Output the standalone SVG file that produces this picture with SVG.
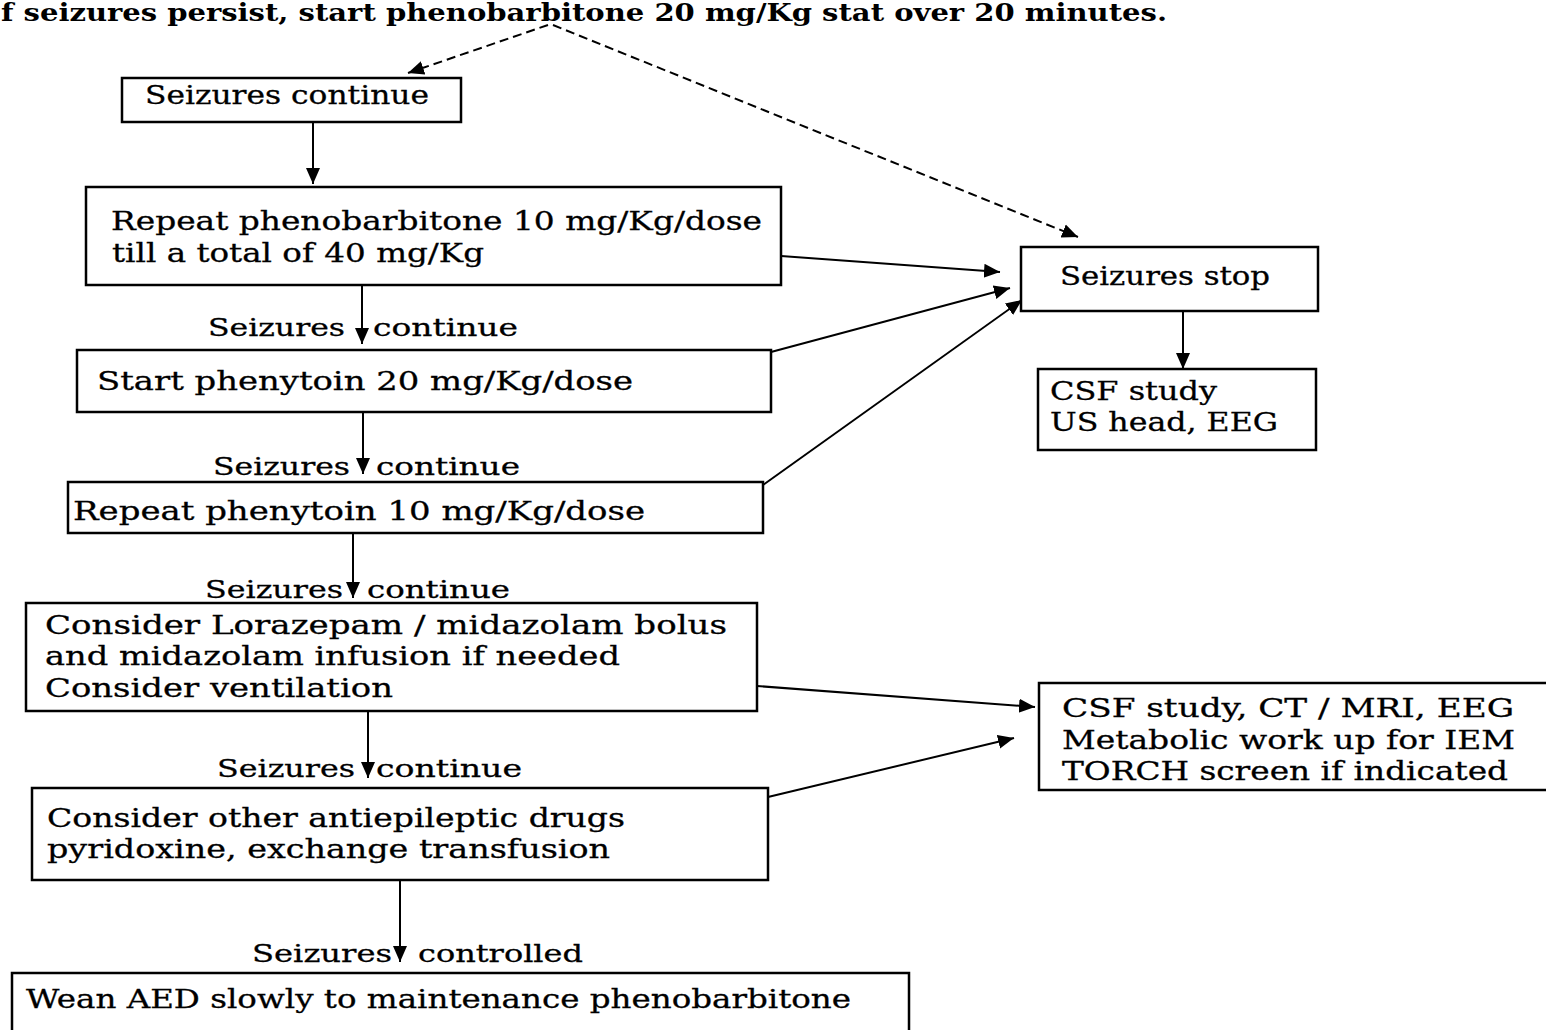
<svg xmlns="http://www.w3.org/2000/svg" width="1546" height="1030" viewBox="0 0 1546 1030">
<style>
  .box { fill: #fff; stroke: #000; stroke-width: 2.5; }
  .t { font-family: "DejaVu Serif", "Liberation Serif", serif; font-size: 26px; fill: #000; stroke: #000; stroke-width: 0.3; }
  .lbl { font-family: "DejaVu Serif", "Liberation Serif", serif; font-size: 25px; fill: #000; stroke: #000; stroke-width: 0.3; }
  .title { font-family: "DejaVu Serif", "Liberation Serif", serif; font-size: 25px; font-weight: bold; fill: #000; }
  .c { fill: none; stroke: #000; stroke-width: 2; marker-end: url(#ah); }
  .d { stroke-dasharray: 9 5; }
</style>
<defs>
  <marker id="ah" markerUnits="userSpaceOnUse" markerWidth="18" markerHeight="16" refX="16" refY="8" orient="auto">
    <path d="M0,1 L16,8 L0,15 Z" fill="#000"/>
  </marker>
</defs>
<rect width="1546" height="1030" fill="#fff"/>

<text class="title" x="1" y="21" textLength="1166" lengthAdjust="spacingAndGlyphs">f seizures persist, start phenobarbitone 20 mg/Kg stat over 20 minutes.</text>

<g id="connectors">
  <path class="c d" d="M548,25 L408,73"/>
  <path class="c d" d="M553,25 L1078,237"/>
  <path class="c" d="M313,122 L313,184"/>
  <path class="c" d="M362,285 L362,344"/>
  <path class="c" d="M363,412 L363,474"/>
  <path class="c" d="M353,533 L353,598"/>
  <path class="c" d="M368,711 L368,778"/>
  <path class="c" d="M400,880 L400,962"/>
  <path class="c" d="M1183,311 L1183,369"/>
  <path class="c" d="M781,256 L1000,272"/>
  <path class="c" d="M771,352 L1010,288"/>
  <path class="c" d="M763,485 L1022,300"/>
  <path class="c" d="M757,686 L1035,707"/>
  <path class="c" d="M768,797 L1014,738"/>
</g>

<g id="labels">
  <text class="lbl" x="208" y="336" textLength="137" lengthAdjust="spacingAndGlyphs">Seizures</text>
  <text class="lbl" x="373" y="336" textLength="145" lengthAdjust="spacingAndGlyphs">continue</text>
  <text class="lbl" x="213" y="475" textLength="137" lengthAdjust="spacingAndGlyphs">Seizures</text>
  <text class="lbl" x="376" y="475" textLength="144" lengthAdjust="spacingAndGlyphs">continue</text>
  <text class="lbl" x="205" y="598" textLength="138" lengthAdjust="spacingAndGlyphs">Seizures</text>
  <text class="lbl" x="367" y="598" textLength="143" lengthAdjust="spacingAndGlyphs">continue</text>
  <text class="lbl" x="217" y="777" textLength="138" lengthAdjust="spacingAndGlyphs">Seizures</text>
  <text class="lbl" x="376" y="777" textLength="146" lengthAdjust="spacingAndGlyphs">continue</text>
  <text class="lbl" x="252" y="962" textLength="140" lengthAdjust="spacingAndGlyphs">Seizures</text>
  <text class="lbl" x="418" y="962" textLength="165" lengthAdjust="spacingAndGlyphs">controlled</text>
</g>

<g id="n1">
  <rect class="box" x="122" y="78" width="339" height="44"/>
  <text class="t" x="145" y="104" textLength="284" lengthAdjust="spacingAndGlyphs">Seizures continue</text>
</g>
<g id="n2">
  <rect class="box" x="86" y="187" width="695" height="98"/>
  <text class="t" x="111" y="230" textLength="651" lengthAdjust="spacingAndGlyphs">Repeat phenobarbitone 10 mg/Kg/dose</text>
  <text class="t" x="112" y="262" textLength="372" lengthAdjust="spacingAndGlyphs">till a total of 40 mg/Kg</text>
</g>
<g id="n3">
  <rect class="box" x="77" y="350" width="694" height="62"/>
  <text class="t" x="97" y="390" textLength="536" lengthAdjust="spacingAndGlyphs">Start phenytoin 20 mg/Kg/dose</text>
</g>
<g id="n4">
  <rect class="box" x="68" y="482" width="695" height="51"/>
  <text class="t" x="73" y="520" textLength="572" lengthAdjust="spacingAndGlyphs">Repeat phenytoin 10 mg/Kg/dose</text>
</g>
<g id="n5">
  <rect class="box" x="26" y="603" width="731" height="108"/>
  <text class="t" x="45" y="634" textLength="682" lengthAdjust="spacingAndGlyphs">Consider Lorazepam / midazolam bolus</text>
  <text class="t" x="45" y="665" textLength="575" lengthAdjust="spacingAndGlyphs">and midazolam infusion if needed</text>
  <text class="t" x="45" y="697" textLength="348" lengthAdjust="spacingAndGlyphs">Consider ventilation</text>
</g>
<g id="n6">
  <rect class="box" x="32" y="788" width="736" height="92"/>
  <text class="t" x="47" y="827" textLength="578" lengthAdjust="spacingAndGlyphs">Consider other antiepileptic drugs</text>
  <text class="t" x="47" y="858" textLength="563" lengthAdjust="spacingAndGlyphs">pyridoxine, exchange transfusion</text>
</g>
<g id="n7">
  <rect class="box" x="12" y="973" width="897" height="70"/>
  <text class="t" x="26" y="1008" textLength="825" lengthAdjust="spacingAndGlyphs">Wean AED slowly to maintenance phenobarbitone</text>
</g>
<g id="n8">
  <rect class="box" x="1021" y="247" width="297" height="64"/>
  <text class="t" x="1060" y="285" textLength="210" lengthAdjust="spacingAndGlyphs">Seizures stop</text>
</g>
<g id="n9">
  <rect class="box" x="1038" y="369" width="278" height="81"/>
  <text class="t" x="1050" y="400" textLength="167" lengthAdjust="spacingAndGlyphs">CSF study</text>
  <text class="t" x="1050" y="431" textLength="228" lengthAdjust="spacingAndGlyphs">US head, EEG</text>
</g>
<g id="n10">
  <rect class="box" x="1039" y="683" width="520" height="107"/>
  <text class="t" x="1062" y="717" textLength="452" lengthAdjust="spacingAndGlyphs">CSF study, CT / MRI, EEG</text>
  <text class="t" x="1062" y="749" textLength="453" lengthAdjust="spacingAndGlyphs">Metabolic work up for IEM</text>
  <text class="t" x="1062" y="780" textLength="446" lengthAdjust="spacingAndGlyphs">TORCH screen if indicated</text>
</g>
</svg>
